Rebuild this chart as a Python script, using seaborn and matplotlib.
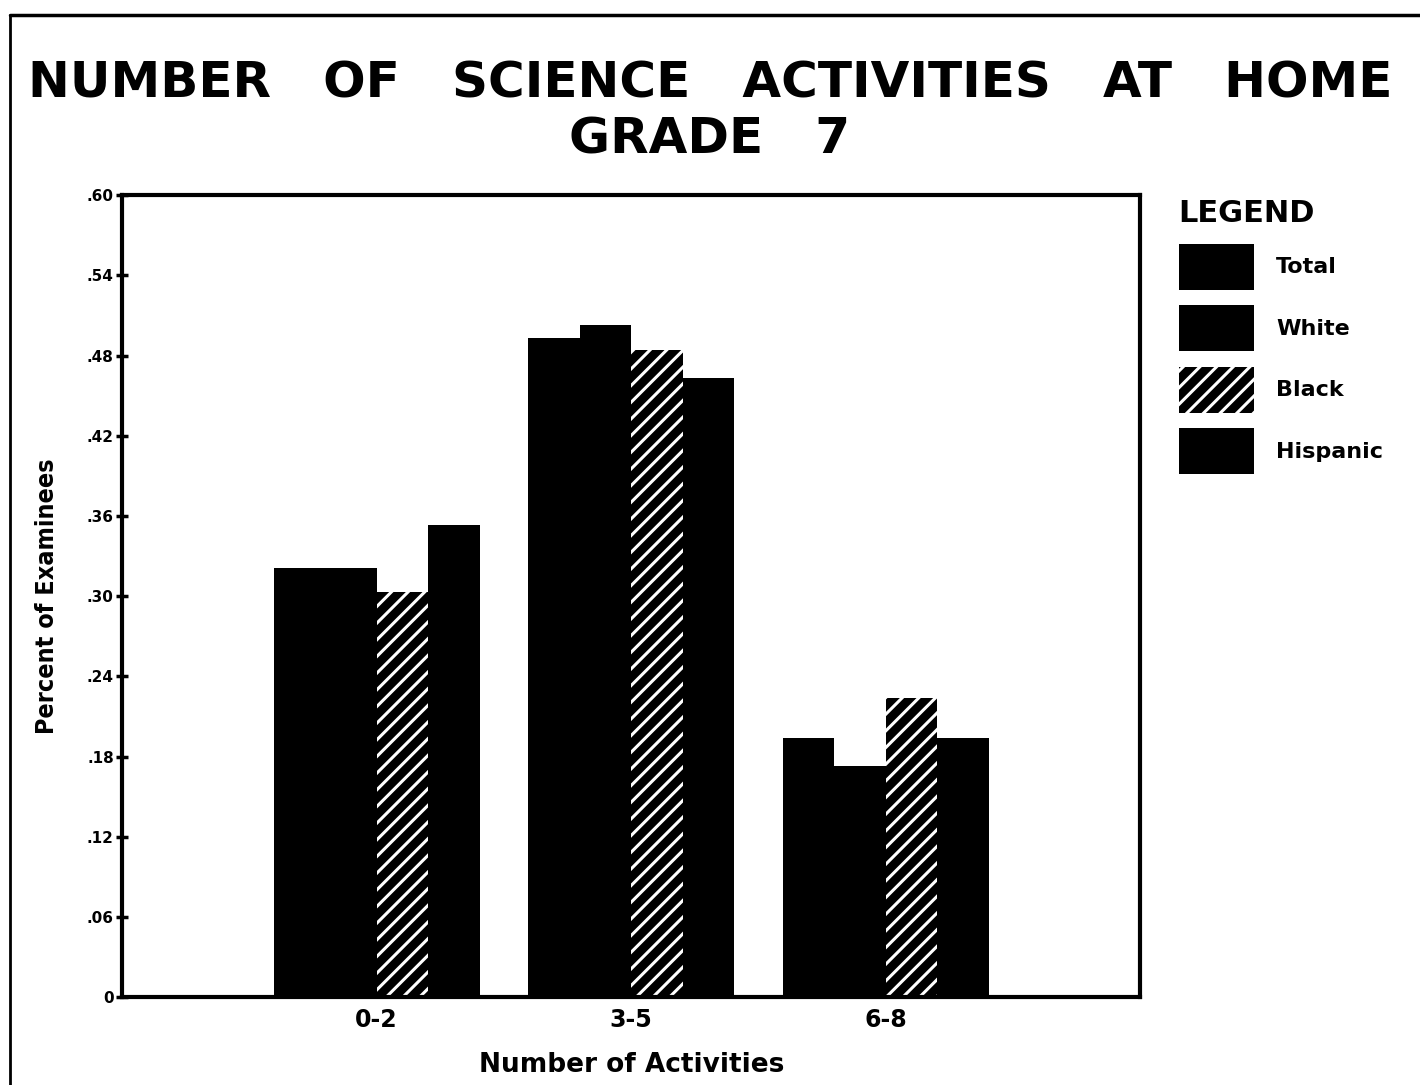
import numpy as np
import pandas as pd
import matplotlib
matplotlib.use('Agg')
import matplotlib.pyplot as plt
import seaborn as sns
from matplotlib.lines import Line2D

# data
categories = ["0-2", "3-5", "6-8"]
groups = ["Total", "White", "Black", "Hispanic"]
total = [0.321, 0.493, 0.194]
white = [0.321, 0.503, 0.173]
black = [0.303, 0.484, 0.224]
hispanic = [0.353, 0.463, 0.194]
yticks = [0, .06, .12, .18, .24, .30, .36, .42, .48, .54, .60]
yticklabels = ["0", ".06", ".12", ".18", ".24", ".30", ".36", ".42", ".48", ".54", ".60"]

rows = []
for g, vals in zip(groups, [total, white, black, hispanic]):
	for c, v in zip(categories, vals):
		rows.append([c, g, v])
df = pd.DataFrame(rows, columns=["activities", "group", "value"])

sns.set_theme(style="white")
plt.rcParams['font.family'] = ['DejaVu Sans']
plt.rcParams['hatch.linewidth'] = 2.2
plt.rcParams['text.color'] = 'black'
plt.rcParams['axes.labelcolor'] = 'black'
plt.rcParams['xtick.color'] = 'black'
plt.rcParams['ytick.color'] = 'black'

fig = plt.figure(figsize=(14.2, 10.85), dpi=100)
ax = fig.add_axes([0.086, 0.081, 0.717, 0.739])

sns.barplot(data=df, x="activities", y="value", hue="group", order=categories,
	hue_order=groups, palette=["black"] * 4, width=0.81, saturation=1,
	ax=ax, legend=False)

for i, cont in enumerate(ax.containers):
	for bar in cont:
		bar.set_linewidth(0)
		if groups[i] == "Black":
			bar.set_hatch("//")
			bar.set_edgecolor("white")

ax.set_xlim(-1, 3)
ax.set_ylim(0, 0.6)
ax.set_yticks(yticks)
ax.set_yticklabels(yticklabels, fontsize=11, fontweight='bold')
ax.tick_params(axis='y', direction='inout', length=8, width=2.5, left=True, pad=2)
ax.tick_params(axis='x', length=0, pad=8)
for lab in ax.get_xticklabels():
	lab.set_fontsize(17)
	lab.set_fontweight('bold')
for s in ax.spines.values():
	s.set_linewidth(3)
	s.set_color("black")

ax.set_xlabel("Number of Activities", fontsize=19, fontweight='bold', labelpad=14)
ax.set_ylabel("Percent of Examinees", fontsize=18, fontweight='bold',
	fontstretch='condensed', labelpad=20)

handles = [cont.patches[0] for cont in ax.containers]
leg = ax.legend(handles, groups, loc='upper left', bbox_to_anchor=(1.018, 1.02),
	frameon=False, title="LEGEND", handlelength=3.4, handleheight=2.8,
	labelspacing=0.7, handletextpad=1.0, prop={'weight': 'bold', 'size': 16},
	title_fontproperties={'weight': 'bold', 'size': 22}, alignment='left')

fig.text(0.5, 0.923, "NUMBER   OF   SCIENCE   ACTIVITIES   AT   HOME", ha='center',
	va='center', fontsize=36, fontweight='heavy')
fig.text(0.5, 0.871, "GRADE   7", ha='center', va='center', fontsize=36, fontweight='heavy')

# scanned page border
fig.add_artist(Line2D([10 / 1420, 1.0], [1 - 15 / 1085, 1 - 15 / 1085], transform=fig.transFigure,
	color="black", lw=2.5))
fig.add_artist(Line2D([10 / 1420, 10 / 1420], [0, 1 - 15 / 1085], transform=fig.transFigure,
	color="black", lw=2))

fig.savefig("out.png", dpi=100, facecolor="white")
